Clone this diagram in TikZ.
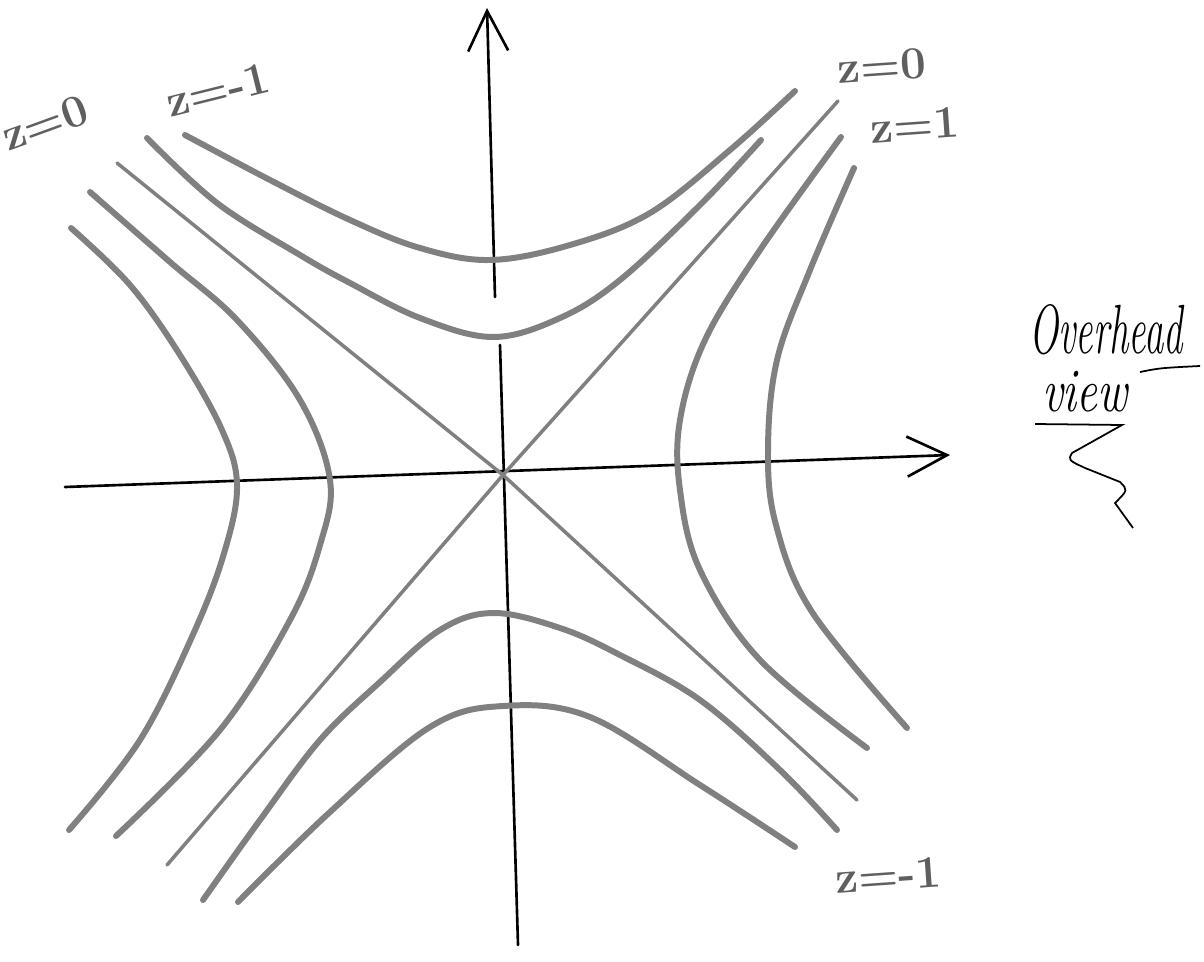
\documentclass[tikz,border=0pt]{standalone}
\usepackage{tikz}
\usetikzlibrary{arrows.meta}
\definecolor{pencil}{RGB}{128,128,128}
\definecolor{graphite}{RGB}{95,95,95}
\tikzset{
  contour/.style={draw=pencil,line width=1.7pt,line cap=round,line join=round},
  asym/.style={draw=pencil,line width=1pt,line cap=round},
  axis/.style={draw=black,line width=0.75pt,line cap=round},
  zlabel/.style={text=graphite,inner sep=0pt,
    font=\fontsize{13}{15}\selectfont\bfseries},
  hand/.style={inner sep=0pt,font=\fontsize{11}{13}\selectfont\itshape},
}

\begin{document}
\begin{tikzpicture}[x=0.01cm,y=-0.01cm]
  \useasboundingbox (0,0) rectangle (1204,961);
  % axes
  \coordinate (o) at (503,475);
  \draw[axis,-{Straight Barb[length=4mm,width=4mm]}] (65,487) -- (950,455);
  \draw[axis,-{Straight Barb[length=4mm,width=4mm]}] (495,297) -- (487,8);
  \draw[axis] (518,945) -- (500,345);
  % asymptotes, z=0
  \draw[asym] (117,163) -- (o) -- (857,800);
  \draw[asym] (838,101) -- (o) -- (167,865);
  % top branches
  \draw[contour] plot[smooth,tension=0.6] coordinates
    {(185,135) (270,180) (350,220) (420,248) (490,260) (570,245) (650,213) (730,150) (795,91)};
  \draw[contour] plot[smooth,tension=0.6] coordinates
    {(147,138) (217,203) (300,255) (350,283) (420,318) (493,337) (560,318) (620,280) (700,205) (761,140)};
  % bottom branches
  \draw[contour] plot[smooth,tension=0.6] coordinates
    {(203,900) (260,820) (320,740) (380,682) (440,630) (493,613) (560,628) (620,655) (700,700) (780,770) (837,830)};
  \draw[contour] plot[smooth,tension=0.6] coordinates
    {(238,902) (330,812) (430,727) (503,706) (590,717) (700,785) (795,847)};
  % left branches
  \draw[contour] plot[smooth,tension=0.6] coordinates
    {(71,228) (130,285) (180,355) (222,430) (237,485) (225,550) (195,630) (140,740) (69,830)};
  \draw[contour] plot[smooth,tension=0.6] coordinates
    {(90,192) (170,262) (237,320) (300,400) (330,480) (320,545) (290,620) (220,730) (116,836)};
  % right branches
  \draw[contour] plot[smooth,tension=0.6] coordinates
    {(841,137) (760,250) (705,340) (680,420) (680,490) (700,570) (760,660) (867,748)};
  \draw[contour] plot[smooth,tension=0.6] coordinates
    {(854,168) (810,270) (777,360) (768,450) (776,525) (812,612) (907,728)};
  % level labels
  \node[zlabel,rotate=20] (l_tl0) at (45,123) {z=0};
  \node[zlabel,rotate=14] (l_tl1) at (218,90) {z=-1};
  \node[zlabel,rotate=4] (l_tr0) at (882,66) {z=0};
  \node[zlabel,rotate=4] (l_tr1) at (915,125) {z=1};
  \node[zlabel,rotate=4] (l_br1) at (888,875) {z=-1};
  % caption
  \node[hand,yscale=1.8] (over) at (1106,330) {Overhead};
  \node[hand,xscale=1.2,yscale=1.6] (view) at (1085,392) {view};
  \draw[line width=0.5pt] (1140,372) .. controls (1160,368) .. (1200,366);
  \draw[line width=0.5pt] (1035,424) -- (1122,425) -- (1072,453)
    .. controls (1068,460) .. (1085,468) -- (1120,482)
    .. controls (1128,490) .. (1115,503) -- (1133,528);
\end{tikzpicture}
\end{document}
